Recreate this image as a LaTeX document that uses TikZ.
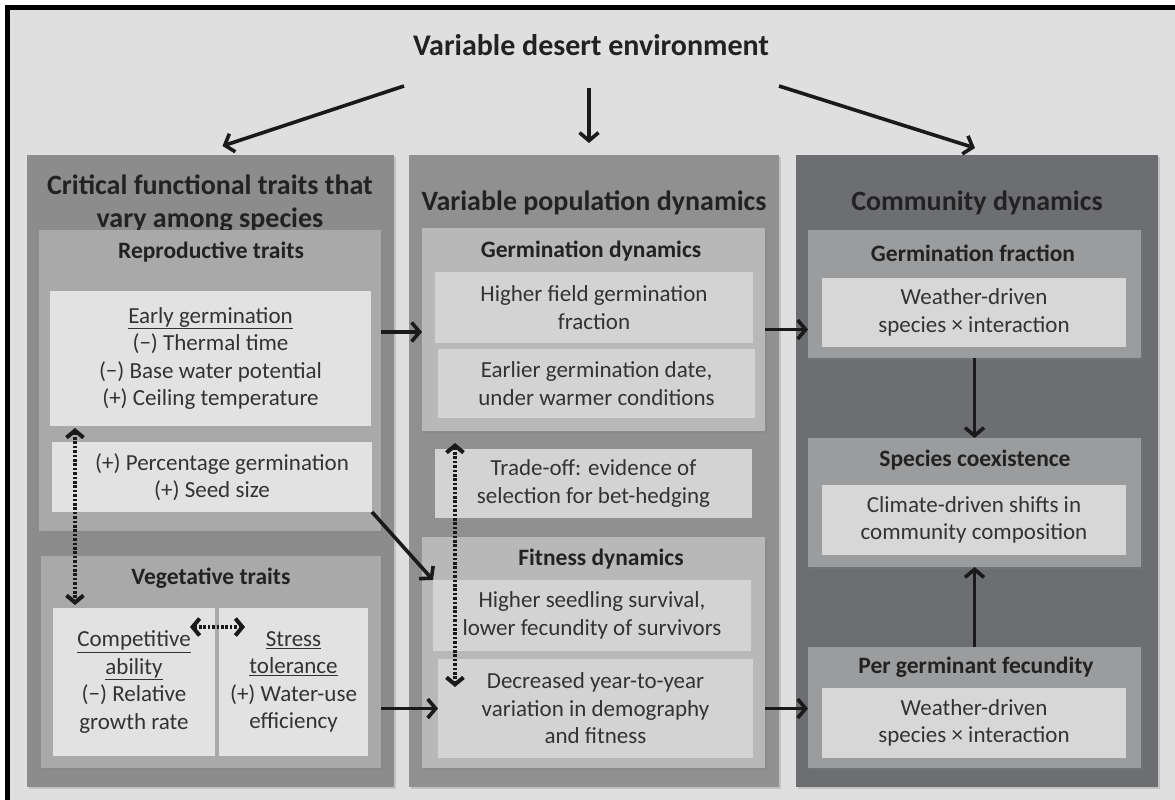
\documentclass[tikz,border=0pt]{standalone}
\usepackage{fontspec}
\setmainfont{Carlito}
\usetikzlibrary{arrows.meta,shadows}
\definecolor{bgc}{HTML}{DFDFDF}
\definecolor{pleft}{HTML}{8C8C8C}
\definecolor{pmid}{HTML}{909090}
\definecolor{pright}{HTML}{6D6E72}
\definecolor{subL}{HTML}{A9A9A9}
\definecolor{subM}{HTML}{B8B8B8}
\definecolor{subR}{HTML}{9B9C9E}
\definecolor{innL}{HTML}{E2E2E2}
\definecolor{innM}{HTML}{D3D3D3}
\definecolor{innR}{HTML}{D7D7D7}
\definecolor{txt}{HTML}{333333}
\definecolor{ttl}{HTML}{222222}
\definecolor{arrc}{HTML}{1A1A1A}
\tikzset{
  bx/.style 2 args={minimum width=#1, minimum height=#2, inner sep=0pt, outer sep=0pt, draw=none},
  shad/.style={drop shadow={opacity=0.3, shadow xshift=1.5pt, shadow yshift=-1.5pt}},
  body/.style={font=\fontsize{23}{27.5}\selectfont, text=txt, align=center},
  subttl/.style={font=\fontsize{23.5}{27}\selectfont\bfseries, text=ttl, inner sep=0pt},
  pttl/.style={font=\fontsize{28}{33}\selectfont\bfseries, text=ttl, align=center, inner sep=0pt},
  arr/.style={line width=3.6pt, draw=arrc, -{Straight Barb[length=8pt,width=19pt]}},
  darr/.style={line width=4pt, draw=arrc, dash pattern=on 2.6pt off 1.8pt,
    {Straight Barb[length=7pt,width=17pt]}-{Straight Barb[length=7pt,width=17pt]}}
}
\begin{document}
\begin{tikzpicture}[x=1pt,y=-1pt]
\useasboundingbox (0,0) rectangle (1175,800);
\fill[white] (-10,-10) rectangle (1190,815);
\fill[bgc] (10,10) rectangle (1190,815);
\fill[black] (5,5) rectangle (1190,10);
\fill[black] (5,5) rectangle (10,815);

% title
\node[font=\fontsize{30}{36}\selectfont\bfseries, text=ttl, inner sep=0pt] (env) at (591,45) {Variable desert environment};

% panels
\node[bx={367pt}{632pt}, fill=pleft, shad] (p1) at (210.5,471) {};
\node[bx={370pt}{632pt}, fill=pmid, shad] (p2) at (594,471) {};
\node[bx={362pt}{632pt}, fill=pright, shad] (p3) at (977,471) {};

\node[pttl] (p1t) at (210,203.5) {Critical functional traits that\\vary among species};
\node[pttl] (p2t) at (594,203) {Variable population dynamics};
\node[pttl] (p3t) at (977,203) {Community dynamics};

% left column
\node[bx={342pt}{301pt}, fill=subL, shad] (repro) at (210,380.5) {};
\node[subttl] (reprot) at (211,252) {Reproductive traits};
\node[bx={321pt}{135pt}, fill=innL, body] (early) at (210.5,358.5)
  {\underline{Early germination}\\(−) Thermal time\\(−) Base water potential\\(+) Ceiling temperature};
\node[bx={320pt}{70pt}, fill=innL, body] (pct) at (212,477)
  {\hspace*{20pt}(+) Percentage germination\\(+) Seed size};

\node[bx={340pt}{212pt}, fill=subL, shad] (veg) at (211,662) {};
\node[subttl] (vegt) at (211,578) {Vegetative traits};
\node[bx={162pt}{148pt}, fill=innL, body] (comp) at (134,682)
  {\underline{Competitive}\\\underline{ability}\\(−) Relative\\growth rate};
\node[bx={149pt}{148pt}, fill=innL, body] (stress) at (293.5,682)
  {\underline{Stress}\\\underline{tolerance}\\(+) Water-use\\efficiency};

% middle column
\node[bx={343pt}{203pt}, fill=subM, shad] (gd) at (593.5,329.5) {};
\node[subttl] (gdt) at (591,251) {Germination dynamics};
\node[bx={318pt}{71pt}, fill=innM, body] (hgf) at (594,307.5)
  {Higher field germination\\fraction};
\node[bx={317pt}{69pt}, fill=innM, body] (egd) at (596.5,383.5)
  {Earlier germination date,\\under warmer conditions};
\node[bx={317pt}{69pt}, fill=innM, body] (trade) at (593.5,483.5)
  {Trade-off: evidence of\\selection for bet-hedging};
\node[bx={343pt}{231pt}, fill=subM, shad] (fd) at (593.5,652.5) {};
\node[subttl] (fdt) at (601,559) {Fitness dynamics};
\node[bx={318pt}{71pt}, fill=innM, body] (hss) at (592,615.5)
  {Higher seedling survival,\\lower fecundity of survivors};
\node[bx={315pt}{99pt}, fill=innM, body] (dec) at (595.5,708.5)
  {Decreased year-to-year\\variation in demography\\and fitness};

% right column
\node[bx={333pt}{128pt}, fill=subR, shad] (gf) at (974.5,294) {};
\node[subttl] (gft) at (973,253) {Germination fraction};
\node[bx={304pt}{69pt}, fill=innR, body] (gfi) at (974,312.5)
  {Weather-driven\\species × interaction};
\node[bx={333pt}{129pt}, fill=subR, shad] (sc) at (974.5,502.5) {};
\node[subttl] (sct) at (975,460) {Species coexistence};
\node[bx={304pt}{70pt}, fill=innR, body] (sci) at (974,520)
  {Climate-driven shifts in\\community composition};
\node[bx={333pt}{121pt}, fill=subR, shad] (pgf) at (974.5,707.5) {};
\node[subttl] (pgft) at (976,667) {Per germinant fecundity};
\node[bx={304pt}{70pt}, fill=innR, body] (pgfi) at (974,723)
  {Weather-driven\\species × interaction};

% arrows from title
\coordinate (envL) at (404,86);
\coordinate (envC) at (589,88);
\coordinate (envR) at (779,86);
\draw[arr] (envL) -- ([xshift=12pt,yshift=9pt]p1.north);
\draw[arr] (envC) -- ([xshift=-5pt,yshift=12pt]p2.north);
\draw[arr] (envR) -- ([xshift=-2pt,yshift=7pt]p3.north);

% horizontal arrows
\draw[arr] ([yshift=48.5pt]repro.east) -- ([yshift=48.5pt]repro.east -| gd.west);
\draw[arr] (gd.east) -- (gd.east -| gf.west);
\draw[arr] (pct.south east) -- (hss.north west);
\draw[arr] (veg.east |- dec.west) -- (dec.west);
\draw[arr] (fd.east |- dec.east) -- (pgf.west |- dec.east);

% vertical arrows right column
\draw[arr] (gf.south) -- (sc.north);
\draw[arr] (pgf.north) -- (sc.south);

% dotted double arrows
\draw[darr] ([xshift=25pt,yshift=-2pt]early.south west) -- ([xshift=22pt,yshift=3pt]comp.north west);
\draw[darr] ([xshift=-25pt,yshift=55pt]comp.east) -- ([xshift=26pt,yshift=55pt]stress.west);
\draw[darr] ([xshift=33pt,yshift=-12pt]gd.south west) -- ([xshift=17pt,yshift=-28pt]dec.north west);
\end{tikzpicture}
\end{document}
